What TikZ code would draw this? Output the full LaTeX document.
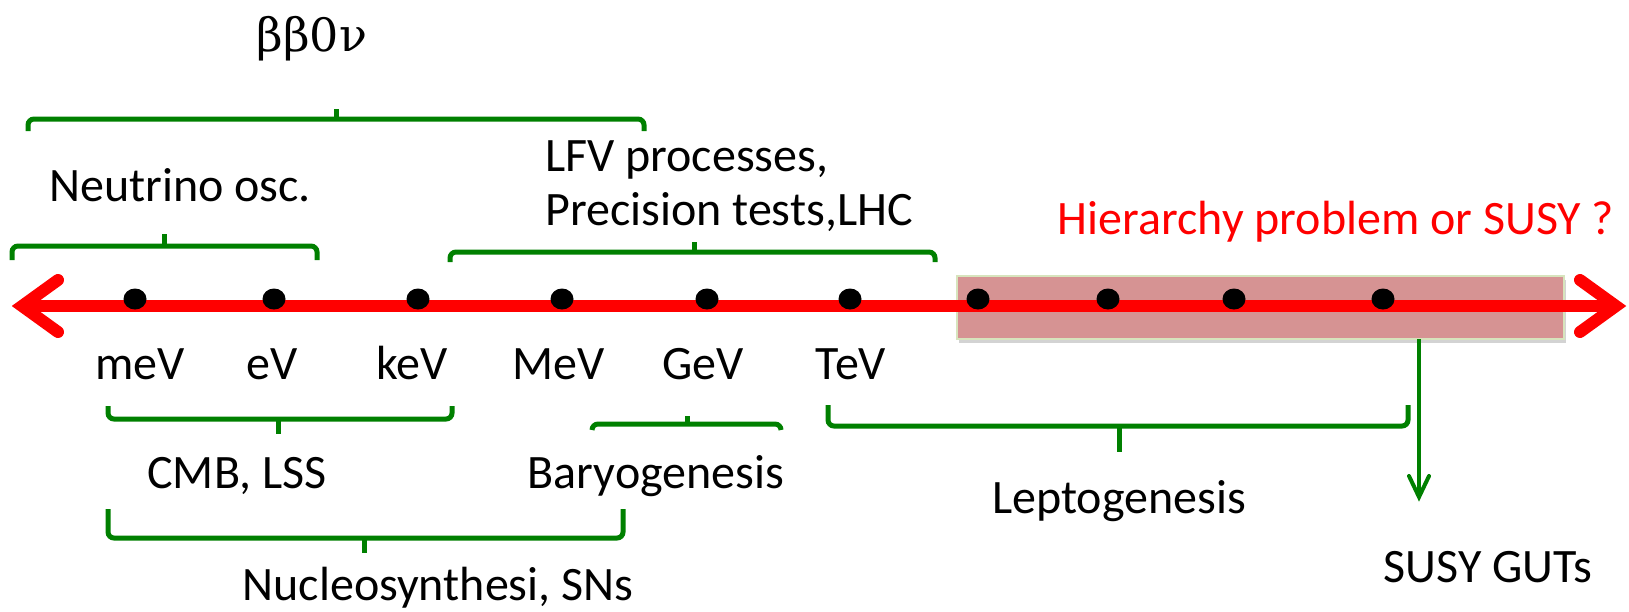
\documentclass[tikz,border=0pt]{standalone}
\usepackage{fontspec}
\setmainfont{Carlito}
\newfontfamily\greekfont{DejaVu Serif}
\usetikzlibrary{shapes.geometric,shadows}
\definecolor{gr}{RGB}{0,128,0}
\definecolor{boxfill}{RGB}{214,147,147}
\definecolor{boxline}{RGB}{215,228,189}
\begin{document}
\begin{tikzpicture}[x=1pt,y=-1pt,
  lbl/.style={font=\fontsize{48}{52}\selectfont, inner sep=0pt, anchor=base},
  gbrace/.style={draw=gr, line width=5pt, rounded corners=6pt},
  gtip/.style={draw=gr, line width=5pt},
  dotnode/.style={fill=black, ellipse, minimum width=23pt, minimum height=21pt, inner sep=0pt},
  axis/.style={draw=red, line width=12pt},
  chev/.style={draw=red, line width=12pt, line cap=round, line join=miter}]
\useasboundingbox (0,0) rectangle (1629,611);
% shaded region
\node[fill=boxfill, draw=boxline, line width=2pt, minimum width=607pt, minimum height=63pt, inner sep=0pt,
      drop shadow={opacity=0.35, shadow xshift=2pt, shadow yshift=-4pt}] (box) at (1260.5,307.5) {};
% axis
\coordinate (L) at (22,306);
\coordinate (R) at (1616,306);
\draw[axis] (L) -- (R);
\draw[chev] ([shift={(36,-26)}]L) -- (L) -- ([shift={(36,26)}]L);
\draw[chev] ([shift={(-36,-26)}]R) -- (R) -- ([shift={(-36,26)}]R);
% dots
\foreach \i/\x in {1/135,2/274,3/418,4/562,5/707,6/850,7/978,8/1108,9/1234,10/1383}
  \node[dotnode] (d\i) at (\x,299) {};
% scale labels
\node[lbl] (meV) at (140,379) {meV};
\node[lbl] (eV) at (272,379) {eV};
\node[lbl] (keV) at (412,379) {keV};
\node[lbl] (MeV) at (559,379) {MeV};
\node[lbl] (GeV) at (703,379) {GeV};
\node[lbl] (TeV) at (851,379) {TeV};
% top texts
\node[lbl, font=\greekfont\fontsize{46}{50}\selectfont] (bb) at (312,51) {ββ0ν};
\node[lbl] (nu) at (180,201) {Neutrino osc.};
\node[lbl, anchor=base west] (lfv1) at (545,171) {LFV processes,};
\node[lbl, anchor=base west] (lfv2) at (545,225) {Precision tests,LHC};
\node[lbl, text=red] (hier) at (1336,234) {Hierarchy problem or SUSY ?};
% top braces (tip up)
\draw[gbrace] (28,131) -- (28,119) -- (644,119) -- (644,131);
\draw[gtip] (336,119) -- (336,109);
\draw[gbrace] (12,260) -- (12,246) -- (317,246) -- (317,260);
\draw[gtip] (164,246) -- (164,234);
\draw[gbrace] (450,262) -- (450,252) -- (935,252) -- (935,262);
\draw[gtip] (694,252) -- (694,242);
% bottom braces
\draw[gbrace] (108,406) -- (108,419) -- (452,419) -- (452,406);
\draw[gtip] (278,419) -- (278,434);
\draw[gbrace] (592,430) -- (592,424) -- (781,424) -- (781,430);
\draw[gtip] (687,424) -- (687,416);
\draw[gbrace] (108,509) -- (108,538) -- (623,538) -- (623,509);
\draw[gtip] (364,538) -- (364,553);
\draw[gbrace] (828,405) -- (828,426) -- (1408,426) -- (1408,405);
\draw[gtip] (1119,426) -- (1119,452);
% bottom texts
\node[lbl] (cmb) at (237,488) {CMB, LSS};
\node[lbl] (bar) at (656,488) {Baryogenesis};
\node[lbl] (nuc) at (438,600) {Nucleosynthesi, SNs};
\node[lbl] (lep) at (1119,513) {Leptogenesis};
\node[lbl] (gut) at (1488,582) {SUSY GUTs};
% green arrow
\coordinate (gs) at (1419,339);
\coordinate (ge) at (1419,497);
\draw[draw=gr, line width=4pt] (gs) -- (ge);
\draw[draw=gr, line width=4pt, line cap=round] (1409,476) -- (ge) -- (1429,476);
\end{tikzpicture}
\end{document}
